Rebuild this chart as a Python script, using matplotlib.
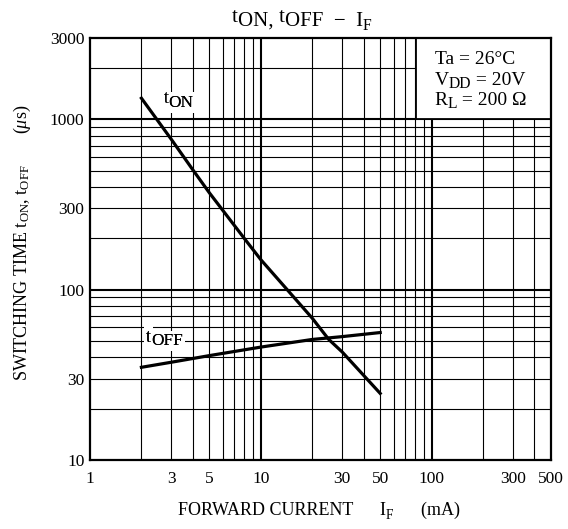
import matplotlib
matplotlib.use("Agg")
import matplotlib.pyplot as plt
from matplotlib.patches import Rectangle

# values (IF in mA, time in us)
if_on = [2, 3, 4, 5, 8, 10, 20, 25, 30, 50]
t_on = [1330, 760, 505, 370, 200, 150, 68, 51, 43, 24.6]

if_off = [2, 3, 5, 10, 20, 30, 50]
t_off = [35, 37.5, 41, 46, 51, 53, 56]

xticks = [1, 3, 5, 10, 30, 50, 100, 300, 500]
yticks = [10, 30, 100, 300, 1000, 3000]

x_minor = [2, 3, 4, 5, 6, 7, 8, 9, 20, 30, 40, 50, 60, 70, 80, 90, 200, 300, 400]
x_major = [10, 100]
y_minor = [20, 30, 40, 50, 60, 70, 80, 90, 200, 300, 400, 500, 600, 700, 800, 900, 2000]
y_major = [100, 1000]

plt.rcParams['font.family'] = ['Liberation Serif', 'DejaVu Serif']
plt.rcParams['mathtext.fontset'] = 'custom'
plt.rcParams['mathtext.rm'] = 'Liberation Serif'
plt.rcParams['mathtext.it'] = 'Liberation Serif:italic'

fig = plt.figure(figsize=(5.68, 5.29), dpi=100)
ax = fig.add_axes([90/568, 1 - 460/529, 461/568, 422/529])
ax.set_xscale('log')
ax.set_yscale('log')
ax.set_xlim(1, 500)
ax.set_ylim(10, 3000)


def rich(x, y, parts, size, coords, **kw):
    # parts: (text, size factor, rise in points); pieces are chained left to right
    d = 0.22
    s, k, rise = parts[0]
    prev = ax.annotate(s, xy=(x, y), xycoords=coords, xytext=(0, rise),
                       textcoords='offset points', fontsize=size*k,
                       ha='left', va='baseline', **kw)
    prev_rise, prev_size = rise, size*k
    for s, k, rise in parts[1:]:
        dy = (rise - prev_rise) + d*(prev_size - size*k)
        prev = ax.annotate(s, xy=(1, 0), xycoords=prev, xytext=(0, dy),
                           textcoords='offset points', fontsize=size*k,
                           ha='left', va='bottom', **kw)
        prev_rise, prev_size = rise, size*k


for x in x_minor:
    ax.axvline(x, color='black', lw=0.8, zorder=1)
for x in x_major:
    ax.axvline(x, color='black', lw=1.5, zorder=1)
for y in y_minor:
    ax.axhline(y, color='black', lw=0.8, zorder=1)
for y in y_major:
    ax.axhline(y, color='black', lw=1.5, zorder=1)

ax.plot(if_on, t_on, color='black', lw=2.3, zorder=3)
ax.plot(if_off, t_off, color='black', lw=2.3, zorder=3)

# curve labels: white patch first, then the text again on top
white = dict(facecolor='white', edgecolor='none', pad=1.5)
on_parts = [('t', 1, 2.5), ('ON', 0.92, 0)]
off_parts = [('t', 1, 2.5), ('OFF', 0.92, 0)]
rich(2.69, 1183, on_parts, 13.5, 'data', zorder=4, bbox=white)
rich(2.69, 1183, on_parts, 13.5, 'data', zorder=4.5)
rich(2.12, 47.3, off_parts, 13.5, 'data', zorder=4, bbox=white)
rich(2.12, 47.3, off_parts, 13.5, 'data', zorder=4.5)

# condition box in the upper right corner
ax.add_patch(Rectangle((0.707, 0.807), 0.293, 0.193, transform=ax.transAxes,
                       facecolor='white', edgecolor='black', lw=1.3, zorder=5))
rich(0.748, 0.938, [('Ta = 26°C', 1, 0)], 14, 'axes fraction', zorder=6)
rich(0.748, 0.889, [('V', 1, 0), ('DD', 0.8, -3), (' = 20V', 1, 0)], 14,
     'axes fraction', zorder=6)
rich(0.748, 0.841, [('R', 1, 0), ('L', 0.8, -3), (' = 200 Ω', 1, 0)], 14,
     'axes fraction', zorder=6)

ax.set_xticks(xticks)
ax.set_xticklabels([str(v) for v in xticks])
ax.set_yticks(yticks)
ax.set_yticklabels([str(v) for v in yticks])
ax.minorticks_off()
ax.tick_params(length=0, labelsize=12.5)
ax.tick_params(axis='x', pad=8)
ax.tick_params(axis='y', pad=4)
for s in ax.spines.values():
    s.set_linewidth(1.6)
    s.set_zorder(7)

# axis titles
rich(178/568, 1 - 515/529, [('FORWARD CURRENT      I', 1, 0), ('F', 0.75, -3),
                            ('      (mA)', 1, 0)], 13, 'figure fraction')
fig.text(22/568, 1 - 243/529,
         r'SWITCHING TIME $\mathrm{t_{ON}}$, $\mathrm{t_{OFF}}$       ($\mu$s)',
         fontsize=13, rotation=90, ha='center', va='center')

rich(232/568, 1 - 26/529, [('t', 1, 3), ('ON, ', 1, 0), ('t', 1, 3),
                           ('OFF  −  I', 1, 0), ('F', 0.75, -3)], 15, 'figure fraction')

fig.savefig('out.png', dpi=100)
